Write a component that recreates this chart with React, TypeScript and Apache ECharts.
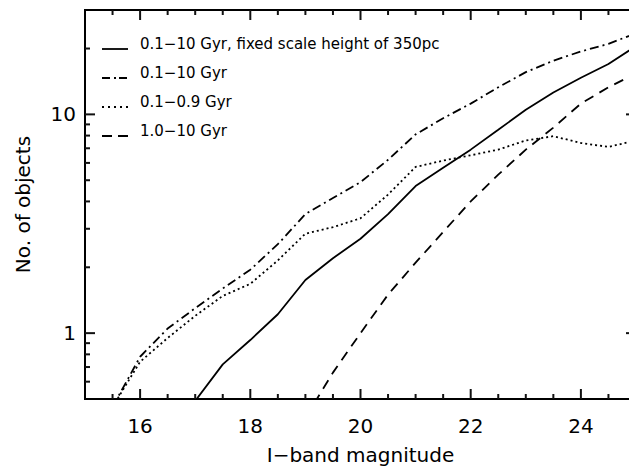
import React, { useEffect, useRef } from "react";
import * as echarts from "echarts";

const magnitudes = [15.5, 16, 16.5, 17, 17.5, 18, 18.5, 19, 19.5, 20, 20.5, 21, 21.5, 22, 22.5, 23, 23.5, 24, 24.5, 25];

const seriesNames = [
  "0.1\u221210 Gyr, fixed scale height of 350pc",
  "0.1\u221210 Gyr",
  "0.1\u22120.9 Gyr",
  "1.0\u221210 Gyr",
];

const fixedScale = [null, null, null, 0.49, 0.72, 0.93, 1.22, 1.75, 2.2, 2.7, 3.5, 4.7, 5.7, 6.9, 8.5, 10.5, 12.6, 14.7, 17.0, 20.5];
const allAges = [0.46, 0.78, 1.05, 1.3, 1.6, 1.95, 2.55, 3.5, 4.15, 4.9, 6.2, 8.1, 9.6, 11.2, 13.3, 15.6, 17.6, 19.4, 21.0, 23.5];
const young = [0.46, 0.74, 0.95, 1.2, 1.48, 1.68, 2.15, 2.85, 3.05, 3.35, 4.3, 5.75, 6.15, 6.5, 6.9, 7.6, 7.95, 7.4, 7.1, 7.6];
const old = [null, null, null, null, null, null, null, 0.41, 0.66, 1.0, 1.5, 2.1, 2.9, 4.0, 5.3, 6.9, 8.7, 11.2, 13.3, 15.4];

const xMajorTicks = [16, 18, 20, 22, 24];
const xMinorTicks = [15.5, 16.5, 17, 17.5, 18.5, 19, 19.5, 20.5, 21, 21.5, 22.5, 23, 23.5, 24.5];
const yMajorTicks = [1, 10];
const yMinorTicks = [0.6, 0.7, 0.8, 0.9, 2, 3, 4, 5, 6, 7, 8, 9, 20];
const yLabels = ["1", "10"];

const X_MIN = 15;
const X_MAX = 25;
const Y_MIN = 0.5;
const Y_MAX = 30;

const FONT = "DejaVu Sans";

const lineDashes: (number[] | null)[] = [null, [9, 4, 2, 4], [2, 3], [10, 7]];
const legendDashes: (number[] | null)[] = [null, [8, 4, 2, 3], [2, 4], [10, 6]];

export default function App() {
  const ref = useRef<HTMLDivElement>(null);

  useEffect(() => {
    if (!ref.current) return;
    const chart = echarts.init(ref.current, undefined, { renderer: "svg" });

    const pair = (ys: (number | null)[]) => magnitudes.map((m, i) => [m, ys[i]]);
    const seriesData = [fixedScale, allAges, young, old];

    chart.setOption({
      animation: false,
      backgroundColor: "#fff",
      textStyle: { fontFamily: FONT },
      grid: {
        left: 85,
        top: 10,
        width: 551,
        height: 389,
        outerBoundsMode: "none",
        containLabel: false,
        show: true,
        borderColor: "#000",
        borderWidth: 2,
        backgroundColor: "transparent",
      },
      xAxis: {
        type: "value",
        min: X_MIN,
        max: X_MAX,
        interval: 1,
        axisLine: { show: false },
        axisTick: { show: false },
        splitLine: { show: false },
        axisLabel: {
          fontSize: 20,
          color: "#000",
          fontFamily: FONT,
          margin: 17,
          formatter: (v: number) => (xMajorTicks.some((t) => Math.abs(t - v) < 1e-6) ? String(v) : ""),
        },
        name: "I\u2212band magnitude",
        nameLocation: "middle",
        nameGap: 46,
        nameTextStyle: { fontSize: 20, color: "#000", fontFamily: FONT },
      },
      yAxis: {
        type: "log",
        logBase: 10,
        min: Y_MIN,
        max: Y_MAX,
        axisLine: { show: false },
        axisTick: { show: false },
        splitLine: { show: false },
        minorTick: { show: false },
        axisLabel: {
          fontSize: 20,
          color: "#000",
          fontFamily: FONT,
          margin: 9,
          showMinLabel: false,
          showMaxLabel: false,
          formatter: (v: number) => {
            for (const l of yLabels) {
              if (Math.abs(Number(l) - v) < 1e-6 * Number(l)) return l;
            }
            return "";
          },
        },
        name: "No. of objects",
        nameLocation: "middle",
        nameGap: 52,
        nameTextStyle: { fontSize: 20, color: "#000", fontFamily: FONT },
      },
      series: seriesNames.map((name, i) => ({
        type: "line",
        name,
        data: pair(seriesData[i]),
        showSymbol: false,
        symbol: "none",
        clip: true,
        color: "#000",
        lineStyle: { color: "#000", width: 1.8, type: lineDashes[i] ?? "solid" },
      })),
    });

    // tick marks on all four sides, placed through the axes' scales
    const toPx = (x: number, y: number) => chart.convertToPixel({ gridIndex: 0 }, [x, y]) as number[];
    const elements: any[] = [];
    const TW = 2;
    const tick = (x: number, y: number, dx: number, dy: number) => {
      const p = toPx(x, y);
      const x0 = Number(p[0]);
      const y0 = Number(p[1]);
      const rx = dx === 0 ? x0 - TW / 2 : Math.min(x0, x0 + dx);
      const ry = dy === 0 ? y0 - TW / 2 : Math.min(y0, y0 + dy);
      const w = dx === 0 ? TW : Math.abs(dx);
      const h = dy === 0 ? TW : Math.abs(dy);
      elements.push({
        type: "rect",
        silent: true,
        z: 100,
        shape: { x: rx, y: ry, width: w, height: h },
        style: { fill: "#111111" },
      });
    };
    const MAJ = 10;
    const MIN = 5;
    xMajorTicks.forEach((v) => {
      tick(v, Y_MIN, 0, -MAJ);
      tick(v, Y_MAX, 0, MAJ);
    });
    xMinorTicks.forEach((v) => {
      tick(v, Y_MIN, 0, -MIN);
      tick(v, Y_MAX, 0, MIN);
    });
    yMajorTicks.forEach((v) => {
      tick(X_MIN, v, MAJ, 0);
      tick(X_MAX, v, -MAJ, 0);
    });
    yMinorTicks.forEach((v) => {
      tick(X_MIN, v, MIN, 0);
      tick(X_MAX, v, -MIN, 0);
    });

    // legend: sample line sits on the text baseline, text to its right
    seriesNames.forEach((name, i) => {
      const yText = 44 + 29 * i;
      const yLine = yText + 5;
      elements.push({
        type: "line",
        silent: true,
        z: 50,
        shape: { x1: 102, y1: yLine, x2: 128, y2: yLine },
        style: { stroke: "#000", lineWidth: 1.8, lineDash: legendDashes[i] ?? undefined },
      });
      elements.push({
        type: "text",
        silent: true,
        z: 50,
        x: 140,
        y: yText,
        style: {
          text: name,
          fill: "#000",
          font: `15px "${FONT}"`,
          textAlign: "left",
          verticalAlign: "middle",
        },
      });
    });

    chart.setOption({ graphic: { elements } });
    chart.setOption({ graphic: { elements } });

    return () => chart.dispose();
  }, []);

  return (
    <div
      ref={ref}
      style={{ position: "absolute", left: 0, top: 0, width: 629, height: 468, background: "#fff" }}
    />
  );
}
